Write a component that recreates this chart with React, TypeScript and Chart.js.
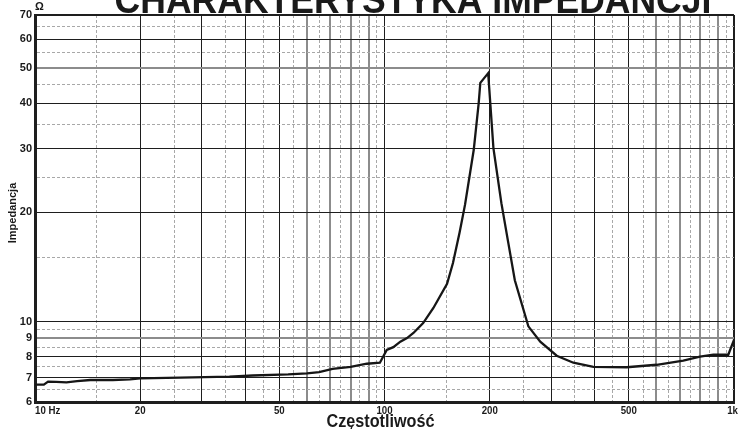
import React, { useEffect, useRef } from "react";
import { Chart, registerables } from "chart.js";

Chart.register(...registerables);

const FREQ = [10, 10.6, 10.9, 11.5, 12.3, 13.2, 14.4, 16.7, 18.7, 20, 26, 36, 42, 53, 60, 65, 71, 80, 89, 97, 101.5, 106, 111, 116, 121, 129, 138, 151, 157, 164, 170, 180, 186, 188, 198, 205, 216, 226, 236, 258, 279, 311, 347, 396, 493, 601, 716, 799, 873, 963, 1000];
const IMPEDANCE = [6.7, 6.7, 6.83, 6.82, 6.8, 6.85, 6.9, 6.9, 6.93, 6.97, 7.0, 7.05, 7.1, 7.15, 7.2, 7.25, 7.4, 7.5, 7.65, 7.7, 8.35, 8.5, 8.8, 9.0, 9.3, 9.9, 10.9, 12.7, 14.5, 17.6, 21, 29.7, 40, 45.5, 48.4, 30, 21.2, 16.5, 13.0, 9.7, 8.8, 8.05, 7.7, 7.5, 7.48, 7.6, 7.8, 8.0, 8.1, 8.1, 8.9];

const Y_MAJOR = [6, 7, 8, 9, 10, 20, 30, 40, 50, 60, 70];
const Y_MINOR = [6.5, 7.5, 8.5, 9.5, 15, 25, 35, 45, 55, 65];
const Y_GREY = [9, 50];
const Y_LABELS = [6, 7, 8, 9, 10, 20, 30, 40, 50, 60, 70];

const X_MAJOR = [10, 20, 30, 40, 50, 60, 70, 80, 90, 100, 200, 300, 400, 500, 600, 700, 800, 900, 1000];
const X_MINOR = [15, 25, 35, 45, 55, 65, 75, 85, 95, 150, 250, 350, 450, 550, 650, 750, 850, 950];
const X_GREY = [60, 70, 80, 90, 600, 700, 800, 900];
const X_LABEL_VALUES = [10, 20, 50, 100, 200, 500, 1000];
const X_LABEL_TEXTS = ["10 Hz", "20", "50", "100", "200", "500", "1k"];

const TITLE = "CHARAKTERYSTYKA IMPEDANCJI";
const X_TITLE = "Częstotliwość";
const Y_TITLE = "Impedancja";
const Y_UNIT = "Ω";

const FONT = "'Liberation Sans', Arial, sans-serif";

function gridColor(minor: number[], grey: number[]) {
  return (ctx: any) => {
    const v = ctx.tick ? ctx.tick.value : null;
    if (v !== null && minor.includes(v)) return "#a8a8a8";
    if (v !== null && grey.includes(v)) return "#8c8c8c";
    return "#1e1e1e";
  };
}
function gridWidth(minor: number[], grey: number[], max: number) {
  return (ctx: any) => {
    const v = ctx.tick ? ctx.tick.value : null;
    if (v !== null && minor.includes(v)) return 1;
    if (v !== null && grey.includes(v)) return 2;
    if (v === max) return 2;
    return 1;
  };
}
function gridDash(minor: number[]) {
  return (ctx: any) => {
    const v = ctx && ctx.tick ? ctx.tick.value : null;
    return v !== null && minor.includes(v) ? [3, 2] : [];
  };
}

function drawSquished(ctx: CanvasRenderingContext2D, text: string, x: number, y: number, sx: number, align: CanvasTextAlign) {
  ctx.save();
  ctx.translate(x, y);
  ctx.scale(sx, 1);
  ctx.textAlign = align;
  ctx.fillText(text, 0, 0);
  ctx.restore();
}

const textPlugin = {
  id: "texts",
  beforeDraw(chart: any) {
    const ctx = chart.ctx;
    ctx.save();
    ctx.fillStyle = "#ffffff";
    ctx.fillRect(0, 0, chart.width, chart.height);
    ctx.restore();
  },
  afterDraw(chart: any) {
    const ctx: CanvasRenderingContext2D = chart.ctx;
    const area = chart.chartArea;
    const xs = chart.scales.x;
    ctx.save();
    ctx.fillStyle = "#1a1a1a";
    // title (cut at top)
    ctx.font = `bold 38px ${FONT}`;
    ctx.textBaseline = "alphabetic";
    drawSquished(ctx, TITLE, 413, 13, 0.935, "center");
    // unit
    ctx.font = `bold 11px ${FONT}`;
    ctx.textAlign = "left";
    ctx.fillText(Y_UNIT, 35, 10);
    // x tick labels
    ctx.font = `bold 11px ${FONT}`;
    ctx.textBaseline = "middle";
    X_LABEL_VALUES.forEach((v, i) => {
      const px = xs.getPixelForValue(v);
      let align: CanvasTextAlign = "center";
      let x = px;
      if (i === 0) { align = "left"; x = area.left; }
      if (i === X_LABEL_VALUES.length - 1) { align = "right"; x = area.right + 4; }
      drawSquished(ctx, X_LABEL_TEXTS[i], x, 411, 0.88, align);
    });
    // x title
    ctx.font = `bold 18px ${FONT}`;
    ctx.textBaseline = "alphabetic";
    drawSquished(ctx, X_TITLE, 380.5, 427, 0.9, "center");
    // y title
    ctx.font = `bold 11px ${FONT}`;
    ctx.translate(16, 213);
    ctx.rotate(-Math.PI / 2);
    ctx.textAlign = "center";
    ctx.textBaseline = "alphabetic";
    ctx.fillText(Y_TITLE, 0, 0);
    ctx.restore();
  },
};

export default function App() {
  const ref = useRef<HTMLCanvasElement | null>(null);
  useEffect(() => {
    if (!ref.current) return;
    const chart = new Chart(ref.current, {
      type: "scatter",
      data: {
        datasets: [
          {
            data: FREQ.map((f, i) => ({ x: f, y: IMPEDANCE[i] })),
            showLine: true,
            borderColor: "#161616",
            borderWidth: 2.3,
            pointRadius: 0,
            tension: 0,
            fill: false,
          },
        ],
      },
      options: {
        animation: false,
        responsive: false,
        maintainAspectRatio: false,
        layout: { padding: { top: 15, right: 9, left: 0, bottom: 0 } },
        plugins: { legend: { display: false }, tooltip: { enabled: false }, title: { display: false } },
        scales: {
          x: {
            type: "logarithmic",
            min: 10,
            max: 1000,
            afterBuildTicks: (scale: any) => {
              scale.ticks = [...X_MAJOR, ...X_MINOR].sort((a, b) => a - b).map((v) => ({ value: v }));
            },
            afterFit: (scale: any) => {
              scale.height = 27;
            },
            ticks: { display: false, autoSkip: false },
            grid: {
              drawTicks: false,
              color: gridColor(X_MINOR, X_GREY),
              lineWidth: gridWidth(X_MINOR, X_GREY, 1000),
            },
            border: { display: true, color: "#1e1e1e", width: 3, dash: gridDash(X_MINOR) },
          },
          y: {
            type: "logarithmic",
            min: 6,
            max: 70,
            afterBuildTicks: (scale: any) => {
              scale.ticks = [...Y_MAJOR, ...Y_MINOR].sort((a, b) => a - b).map((v) => ({ value: v }));
            },
            afterFit: (scale: any) => {
              scale.width = 35;
            },
            ticks: {
              autoSkip: false,
              padding: 3,
              color: "#1a1a1a",
              font: { family: FONT, size: 11, weight: "bold" },
              callback: (value: any) => (Y_LABELS.includes(Number(value)) ? String(value) : ""),
            },
            grid: {
              drawTicks: false,
              color: gridColor(Y_MINOR, Y_GREY),
              lineWidth: gridWidth(Y_MINOR, Y_GREY, 70),
            },
            border: { display: true, color: "#1e1e1e", width: 3, dash: gridDash(Y_MINOR) },
          },
        },
      },
      plugins: [textPlugin],
    } as any);
    return () => chart.destroy();
  }, []);
  return (
    <div style={{ position: "fixed", left: 0, top: 0, width: 743, height: 429, background: "#fff" }}>
      <canvas ref={ref} width={743} height={429} style={{ display: "block" }} />
    </div>
  );
}
